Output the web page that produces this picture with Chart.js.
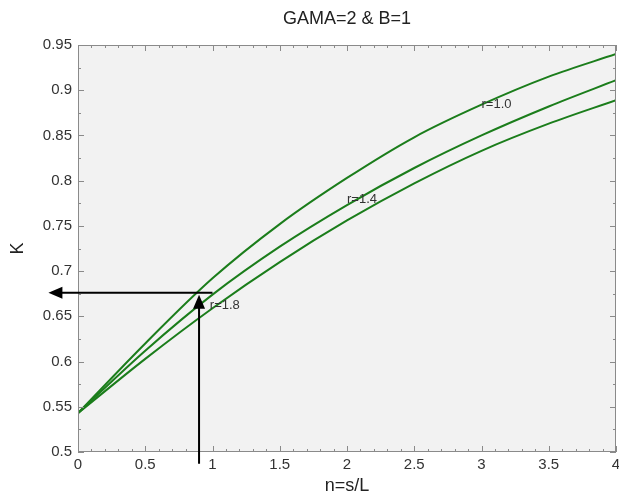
<!DOCTYPE html>
<html>
<head>
<meta charset="utf-8">
<script src="https://cdn.jsdelivr.net/npm/chart.js@4.4.1/dist/chart.umd.min.js"></script>
<style>
  html, body { margin: 0; background: #fff; }
  #wrap { width: 619px; height: 497px; }
</style>
</head>
<body>
<div id="wrap"><canvas id="chart"></canvas></div>
<script>
// data
const nValues = [0, 0.5, 1, 1.5, 2, 2.5, 3, 3.5, 4];
const kR10 = [0.543, 0.620, 0.692, 0.752, 0.803, 0.848, 0.884, 0.915, 0.940];
const kR14 = [0.543, 0.612, 0.674, 0.727, 0.773, 0.814, 0.850, 0.882, 0.911];
const kR18 = [0.543, 0.603, 0.659, 0.710, 0.756, 0.797, 0.833, 0.863, 0.889];
const curveNames = ['r=1.0', 'r=1.4', 'r=1.8'];
const curveLabelN = [3.0, 2.0, 0.98];
const curveLabelK = [0.884, 0.779, 0.662];
const xTicks = [0, 0.5, 1, 1.5, 2, 2.5, 3, 3.5, 4];
const yTicks = [0.5, 0.55, 0.6, 0.65, 0.7, 0.75, 0.8, 0.85, 0.9, 0.95];
// reading arrows: vertical up at n, then horizontal to the K axis
const readN = 0.9, readK = 0.676;
const arrowStartN = 1.0, arrowTipN = -0.22, arrowBottomK = 0.487;

const FONT = 'Liberation Sans, Arial, sans-serif';
const green = '#1b7d1b';

function toPoints(ys) {
  return nValues.map((x, i) => ({ x: x, y: ys[i] }));
}

const framePlugin = {
  id: 'frame',
  beforeDatasetsDraw(chart) {
    const { ctx, chartArea: a } = chart;
    ctx.save();
    ctx.fillStyle = '#f2f2f2';
    ctx.fillRect(a.left, a.top, a.right - a.left, a.bottom - a.top);
    ctx.restore();
  },
  afterDatasetsDraw(chart) {
    const { ctx, chartArea: a, scales } = chart;
    const xs = scales.x, ys = scales.y;
    ctx.save();
    ctx.strokeStyle = '#8a8a8a';
    ctx.lineWidth = 1;
    ctx.strokeRect(a.left + 0.5, a.top + 0.5, a.right - a.left - 1, a.bottom - a.top - 1);
    ctx.beginPath();
    for (let i = 0; i <= 40; i++) {
      const v = i / 10;
      const px = Math.round(xs.getPixelForValue(v)) + 0.5;
      const len = (i % 5 === 0) ? 6 : 3;
      ctx.moveTo(px, a.bottom); ctx.lineTo(px, a.bottom - len);
      ctx.moveTo(px, a.top); ctx.lineTo(px, a.top + len);
    }
    for (let i = 0; i <= 18; i++) {
      const v = 0.5 + i * 0.025;
      const py = Math.round(ys.getPixelForValue(v)) + 0.5;
      const len = (i % 2 === 0) ? 6 : 3;
      ctx.moveTo(a.left, py); ctx.lineTo(a.left + len, py);
      ctx.moveTo(a.right, py); ctx.lineTo(a.right - len, py);
    }
    ctx.stroke();

    // curve labels
    ctx.fillStyle = '#333';
    ctx.font = '13px ' + FONT;
    ctx.textBaseline = 'middle';
    ctx.textAlign = 'left';
    curveNames.forEach((t, i) => {
      ctx.fillText(t, xs.getPixelForValue(curveLabelN[i]), ys.getPixelForValue(curveLabelK[i]));
    });

    // reading arrows
    ctx.strokeStyle = '#000';
    ctx.fillStyle = '#000';
    ctx.lineWidth = 2;
    const hx0 = xs.getPixelForValue(arrowStartN);
    const hx1 = xs.getPixelForValue(arrowTipN);
    const hy = ys.getPixelForValue(readK);
    const vx = xs.getPixelForValue(readN);
    const vy0 = ys.getPixelForValue(arrowBottomK);
    ctx.beginPath();
    ctx.moveTo(hx0, hy); ctx.lineTo(hx1 + 12, hy);
    ctx.moveTo(vx, vy0); ctx.lineTo(vx, hy + 14);
    ctx.stroke();
    ctx.beginPath();
    ctx.moveTo(hx1, hy); ctx.lineTo(hx1 + 14, hy - 6); ctx.lineTo(hx1 + 14, hy + 6); ctx.closePath();
    ctx.moveTo(vx, hy + 2); ctx.lineTo(vx - 6, hy + 16); ctx.lineTo(vx + 6, hy + 16); ctx.closePath();
    ctx.fill();

    // title over the plot area
    ctx.fillStyle = '#222';
    ctx.font = '18px ' + FONT;
    ctx.textAlign = 'center';
    ctx.textBaseline = 'middle';
    ctx.fillText('GAMA=2 & B=1', (a.left + a.right) / 2, 19);
    ctx.restore();
  }
};

const lineStyle = {
  borderColor: green,
  borderWidth: 2,
  pointRadius: 0,
  fill: false,
  cubicInterpolationMode: 'monotone'
};

const tickFormat = v => String(Math.round(v * 1000) / 1000);

new Chart(document.getElementById('chart'), {
  type: 'line',
  data: {
    datasets: [
      Object.assign({ label: curveNames[0], data: toPoints(kR10) }, lineStyle),
      Object.assign({ label: curveNames[1], data: toPoints(kR14) }, lineStyle),
      Object.assign({ label: curveNames[2], data: toPoints(kR18) }, lineStyle)
    ]
  },
  options: {
    responsive: true,
    maintainAspectRatio: false,
    animation: false,
    layout: { padding: { top: 45, right: 3, left: 0, bottom: 0 } },
    plugins: {
      legend: { display: false },
      title: { display: false },
      tooltip: { enabled: false }
    },
    scales: {
      x: {
        type: 'linear',
        min: 0, max: 4,
        afterBuildTicks: s => { s.ticks = xTicks.map(v => ({ value: v })); },
        afterFit: s => { s.height = 45; s.paddingLeft = 0; s.paddingRight = 0; },
        grid: { display: false, drawTicks: false },
        border: { display: false },
        ticks: { color: '#333', font: { family: FONT, size: 15 }, padding: 4, maxRotation: 0, callback: tickFormat },
        title: { display: true, text: 'n=s/L', color: '#222', font: { family: FONT, size: 18 }, padding: { top: 0, bottom: 0 } }
      },
      y: {
        type: 'linear',
        min: 0.5, max: 0.95,
        afterBuildTicks: s => { s.ticks = yTicks.map(v => ({ value: v })); },
        afterFit: s => { s.width = 78; s.paddingTop = 0; s.paddingBottom = 0; },
        grid: { display: false, drawTicks: false },
        border: { display: false },
        ticks: { color: '#333', font: { family: FONT, size: 15 }, padding: 6, callback: tickFormat },
        title: { display: true, text: 'K', color: '#222', font: { family: FONT, size: 18 }, padding: { top: 7, bottom: 0 } }
      }
    }
  },
  plugins: [framePlugin]
});
</script>
</body>
</html>
